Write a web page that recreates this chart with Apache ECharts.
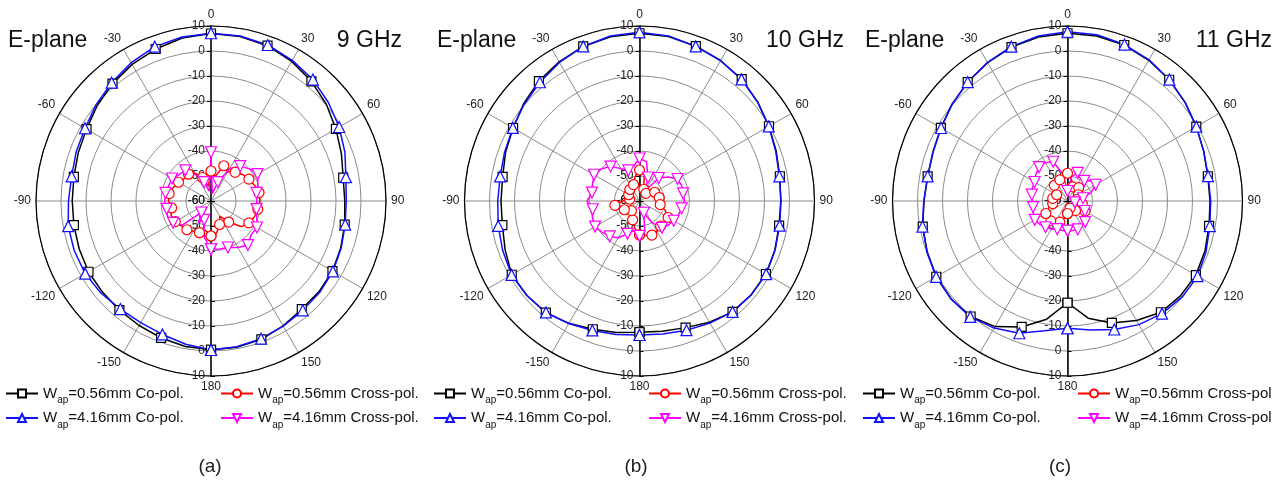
<!DOCTYPE html>
<html>
<head>
<meta charset="utf-8">
<script src="https://cdn.jsdelivr.net/npm/echarts@6/dist/echarts.min.js"></script>
<style>
html, body { margin: 0; padding: 0; background: #fff; }
#chart { width: 1287px; height: 485px; }
</style>
</head>
<body>
<div id="chart"></div>
<script>
// measured angle (deg), 10 degree steps
const angles = [-180, -170, -160, -150, -140, -130, -120, -110, -100, -90, -80, -70, -60, -50, -40, -30, -20, -10,
  0, 10, 20, 30, 40, 50, 60, 70, 80, 90, 100, 110, 120, 130, 140, 150, 160, 170, 180];

// 9 GHz (dB)
const co056_9 = [-0.5, -0.9, -1.7, -2.5, -3.0, -3.3, -3.4, -3.9, -4.3, -4.5, -4.3, -3.5, -2.5, -0.6, 1.3, 3.1, 4.7, 6.2,
  7.0, 6.8, 6.1, 4.5, 2.5, 0.2, -2.3, -4.5, -6.3, -6.5, -5.7, -4.8, -3.9, -3.6, -3.5, -2.3, -1.1, -0.6, -0.5];
const co416_9 = [-0.4, -1.8, -3.2, -3.8, -3.6, -2.6, -1.9, -1.8, -2.0, -3.0, -3.4, -2.6, -1.8, 0.0, 1.8, 3.9, 5.7, 6.6,
  7.1, 7.0, 6.4, 5.0, 3.4, 1.3, -0.8, -3.0, -5.2, -5.9, -5.5, -4.6, -3.7, -3.2, -2.9, -2.2, -1.4, -0.8, -0.4];
const x056_9 = [-46, -48, -46.5, -46, -45, -44.5, -43.5, -43, -44, -43, -43, -44, -45, -46, -46, -47, -50, -54,
  -48, -50, -45, -46.5, -45, -43.5, -42.5, -41.5, -40.5, -40.5, -41, -41.5, -42.5, -44, -49, -53, -50, -47, -46];
const x416_9 = [-40.7, -45, -52, -50, -54, -45, -42.5, -41.5, -42, -41.5, -41.5, -42, -42, -43.5, -44, -48, -52, -56,
  -40.5, -57, -52, -45, -41.8, -40, -38.5, -40, -41.5, -41.7, -41.5, -40.5, -38.8, -39, -37, -38.5, -40.2, -40.5, -40.7];

// 10 GHz (dB)
const co056_10 = [-7.5, -6.6, -5.4, -3.5, -1.7, -1.2, -1.0, -2.8, -4.3, -4.6, -4.4, -3.0, -1.6, 0.5, 2.6, 4.3, 5.8, 6.7,
  7.1, 6.8, 5.9, 4.9, 3.6, 1.7, -0.2, -1.8, -3.0, -3.5, -3.3, -2.4, -1.6, -1.7, -2.1, -4.0, -6.1, -7.1, -7.5];
const co416_10 = [-6.4, -5.8, -4.9, -3.4, -1.8, -1.2, -0.9, -1.8, -2.6, -3.3, -3.4, -2.6, -1.5, 0.2, 2.0, 4.0, 5.8, 7.0,
  7.5, 7.0, 5.8, 4.8, 3.5, 1.6, -0.3, -2.0, -3.2, -3.4, -3.1, -2.3, -1.5, -1.6, -2.1, -3.6, -5.0, -6.0, -6.4];
const x056_10 = [-46.5, -49, -52, -54, -55, -53, -53, -51, -50, -53, -56, -57, -55, -54, -54, -55, -53, -50,
  -47.6, -49, -55, -58, -56, -54, -53, -52.5, -52, -52, -51.6, -49, -46.8, -46.5, -46.9, -46, -45.5, -46, -46.5];
const x416_10 = [-46, -48, -46, -43, -41.5, -40.5, -39.5, -40, -41, -39, -40.7, -40, -39, -40, -42, -45, -47, -46,
  -43, -44, -50, -55, -48, -45, -42.4, -42, -42.3, -42, -42.9, -43.5, -44.2, -45, -46, -50, -55, -48, -46];

// 11 GHz (dB)
const co056_11 = [-19.3, -12.0, -6.4, -2.0, 0.3, 0.8, 0.6, -0.3, -1.2, -2.6, -3.2, -2.7, -1.5, 0.3, 2.1, 3.9, 5.5, 6.6,
  7.1, 7.0, 6.4, 5.0, 3.3, 1.4, -0.5, -2.0, -3.0, -3.0, -2.5, -1.5, -0.7, -1.0, -1.9, -4.8, -8.1, -12.4, -19.3];
const co416_11 = [-9.1, -7.3, -3.7, -1.3, 0.5, 0.9, 0.7, -0.2, -1.1, -2.5, -3.2, -2.8, -1.6, 0.2, 2.1, 4.0, 5.7, 7.0,
  7.7, 7.5, 6.6, 5.2, 3.4, 1.4, -0.5, -2.0, -2.9, -2.7, -2.2, -1.0, 0.1, -0.2, -1.2, -2.9, -5.3, -7.6, -9.1];
const x056_11 = [-55, -53, -51, -50, -49.6, -49.5, -50, -52, -54, -55, -54, -55, -55, -53, -51.8, -52, -51, -50,
  -48.9, -51, -54, -55, -53, -54, -55, -55, -56, -55, -54, -53, -51.9, -53, -55, -56, -57, -56, -55];
const x416_11 = [-48.1, -48, -48, -47, -46.3, -45.5, -44.9, -45.5, -46, -46, -45.5, -45, -44.8, -43.5, -42.3, -42.3, -43.3, -49,
  -56, -50, -48, -49.5, -49.5, -47.4, -47, -50, -53.7, -56, -57, -55, -52, -50, -49, -48.5, -47.9, -48, -48.1];

const seriesNames = ['W_ap=0.56mm Co-pol.', 'W_ap=4.16mm Co-pol.', 'W_ap=0.56mm Cross-pol.', 'W_ap=4.16mm Cross-pol.'];

const font = 'Liberation Sans, Arial, sans-serif';
const gridGray = '#8c8c8c';

const panels = [
  { cx: 211, freq: '9 GHz', tag: '(a)', planeX: 8, freqX: 402, tagX: 210, legL: 5, legR: 220,
    data: [co056_9, co416_9, x056_9, x416_9], crossDot: true },
  { cx: 639.5, freq: '10 GHz', tag: '(b)', planeX: 437, freqX: 844, tagX: 636, legL: 433, legR: 648,
    data: [co056_10, co416_10, x056_10, x416_10], crossDot: true },
  { cx: 1067.5, freq: '11 GHz', tag: '(c)', planeX: 865, freqX: 1272, tagX: 1060, legL: 862, legR: 1077,
    data: [co056_11, co416_11, x056_11, x416_11], crossDot: false }
];

const looks = [
  { color: '#000000', symbol: 'rect', size: 9 },
  { color: '#1010ff', symbol: 'triangle', size: 11 },
  { color: '#ff0000', symbol: 'circle', size: 10 },
  { color: '#ff00ff', symbol: 'path://M0,0L10,0L5,9Z', size: 11 }
];

const chart = echarts.init(document.getElementById('chart'));

const polar = [], angleAxis = [], radiusAxis = [], series = [], legend = [], graphic = [];

const tickLabel = { fontSize: 12, color: '#222', fontFamily: font };

panels.forEach((p, k) => {
  const main = 2 * k, up = 2 * k + 1;
  polar.push({ center: [p.cx, 201], radius: 175 });
  polar.push({ center: [p.cx, 201], radius: 175 });

  angleAxis.push({
    polarIndex: main, type: 'value', min: -180, max: 180, interval: 30,
    startAngle: 270, clockwise: true,
    axisLine: { lineStyle: { color: '#000', width: 1.2 } },
    axisTick: { show: false },
    axisLabel: Object.assign({
      margin: 5,
      formatter: (v) => (v === -180 ? '180' : (v === 180 ? '' : String(v)))
    }, tickLabel),
    splitLine: { lineStyle: { color: gridGray, width: 1 } }
  });
  angleAxis.push({ polarIndex: up, type: 'value', min: 0, max: 360, startAngle: 90, show: false });

  // downward half of the dB scale
  radiusAxis.push({
    polarIndex: main, type: 'value', min: -60, max: 10, interval: 10,
    axisLine: { lineStyle: { color: '#000', width: 1.5 } },
    axisTick: { length: 4, inside: true, lineStyle: { color: '#000' } },
    axisLabel: Object.assign({ margin: -6, align: 'right' }, tickLabel),
    splitLine: { lineStyle: { color: gridGray, width: 1 } }
  });
  // upward half
  radiusAxis.push({
    polarIndex: up, type: 'value', min: -60, max: 10, interval: 10,
    axisLine: { lineStyle: { color: '#000', width: 1.5 } },
    axisTick: { length: 4, lineStyle: { color: '#000' } },
    axisLabel: Object.assign({ margin: 6 }, tickLabel),
    splitLine: { show: false }
  });

  p.data.forEach((vals, i) => {
    const lk = looks[i];
    series.push({
      name: seriesNames[i],
      type: 'line',
      coordinateSystem: 'polar',
      polarIndex: main,
      data: vals.map((v, j) => [v, angles[j]]),
      symbol: lk.symbol,
      symbolSize: (val) => (val[1] % 20 === 0 ? lk.size : 0),
      showAllSymbol: true,
      lineStyle: { color: lk.color, width: 1.5 },
      itemStyle: { color: '#fff', borderColor: lk.color, borderWidth: 1.2 },
      z: i < 2 ? 3 : 4
    });
  });

  const fmt = (name) => {
    const parts = name.split('_ap');
    let rest = parts[1];
    if (!p.crossDot) rest = rest.replace('Cross-pol.', 'Cross-pol');
    return '{m|' + parts[0] + '}{s|ap}{m|' + rest + '}';
  };
  const legText = {
    rich: {
      m: { fontSize: 15, color: '#111', fontFamily: font, lineHeight: 24, verticalAlign: 'middle' },
      s: { fontSize: 10, color: '#111', fontFamily: font, lineHeight: 10, verticalAlign: 'bottom' }
    }
  };
  [[p.legL, [seriesNames[0], seriesNames[1]]], [p.legR, [seriesNames[2], seriesNames[3]]]].forEach(([x, names]) => {
    legend.push({
      left: x, top: 386, orient: 'vertical', itemGap: 5,
      itemWidth: 32, itemHeight: 10, padding: 0,
      data: names, formatter: fmt, textStyle: legText, selectedMode: false
    });
  });

  graphic.push({ type: 'text', x: p.planeX, y: 41,
    style: { text: 'E-plane', font: '23px ' + font, fill: '#111', textVerticalAlign: 'middle' } });
  graphic.push({ type: 'text', x: p.freqX, y: 41,
    style: { text: p.freq, font: '23px ' + font, fill: '#111', textAlign: 'right', textVerticalAlign: 'middle' } });
  graphic.push({ type: 'text', x: p.tagX, y: 467,
    style: { text: p.tag, font: '19px ' + font, fill: '#222', textAlign: 'center', textVerticalAlign: 'middle' } });
});

chart.setOption({
  animation: false,
  backgroundColor: '#fff',
  polar: polar,
  angleAxis: angleAxis,
  radiusAxis: radiusAxis,
  legend: legend,
  graphic: graphic,
  series: series
});
</script>
</body>
</html>
